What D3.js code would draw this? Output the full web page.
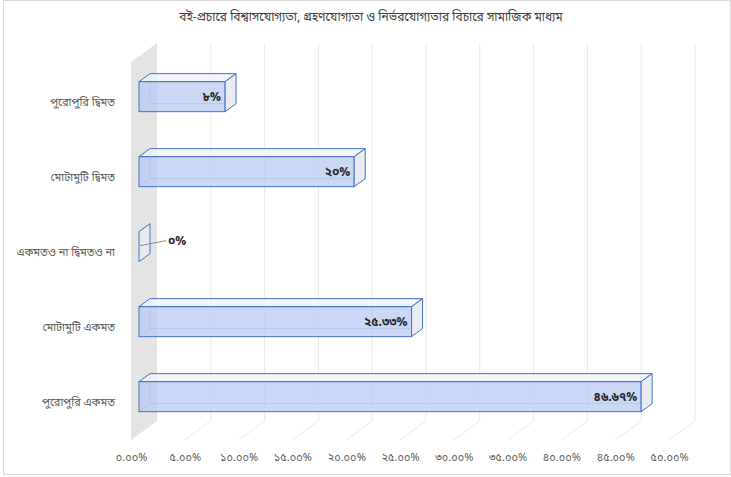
<!DOCTYPE html>
<html>
<head>
<meta charset="utf-8">
<script src="https://cdn.jsdelivr.net/npm/d3@7"></script>
<style>
  body { margin: 0; background: #fff; }
  text { font-family: "Noto Sans Bengali", "Noto Sans", "DejaVu Sans", sans-serif; }
</style>
</head>
<body>
<div id="chart"></div>
<script>
// chart data
const title = 'বই-প্রচারে বিশ্বাসযোগ্যতা, গ্রহণযোগ্যতা ও নির্ভরযোগ্যতার বিচারে সামাজিক মাধ্যম';
const categories = ['পুরোপুরি দ্বিমত', 'মোটামুটি দ্বিমত', 'একমতও না দ্বিমতও না', 'মোটামুটি একমত', 'পুরোপুরি একমত'];
const values = [8, 20, 0, 25.33, 46.67];
const valueLabels = ['৮%', '২০%', '০%', '২৫.৩৩%', '৪৬.৬৭%'];
const tickValues = [0, 5, 10, 15, 20, 25, 30, 35, 40, 45, 50];
const tickLabels = ['০.০০%', '৫.০০%', '১০.০০%', '১৫.০০%', '২০.০০%', '২৫.০০%', '৩০.০০%', '৩৫.০০%', '৪০.০০%', '৪৫.০০%', '৫০.০০%'];

const [width, height] = [731, 477];

// 3d depth: dx to the right, dy upward
const slope = -0.73;
const wallDepth = 26;
const barNear = 8, barFar = 19;

const x = d3.scaleLinear().domain([0, 50]).range([131, 669]);
const y = d3.scaleBand().domain(categories).range([65, 440])
    .paddingInner(0.6).paddingOuter(0.3);

const svg = d3.select('#chart').append('svg')
    .attr('width', width).attr('height', height);

// outer frame
svg.append('rect')
    .attr('x', 3.5).attr('y', 0.5)
    .attr('width', width - 4).attr('height', 474)
    .attr('fill', '#fff').attr('stroke', '#d9d9d9');

svg.append('text')
    .attr('x', 371).attr('y', 21)
    .attr('text-anchor', 'middle')
    .style('font-size', '12px')
    .attr('fill', '#404040')
    .text(title);

const floorY = 440, topY = 62;
const dy = (d) => d * slope;

// side wall
svg.append('path')
    .attr('d', `M${x(0)},${topY}L${x(0) + wallDepth},${topY + dy(wallDepth)}` +
        `L${x(0) + wallDepth},${floorY + dy(wallDepth)}L${x(0)},${floorY}Z`)
    .attr('fill', '#e4e4e4');

// back wall gridlines
svg.selectAll('.vgrid')
    .data(tickValues.slice(1))
    .join('line')
    .attr('x1', (d) => x(d) + wallDepth).attr('x2', (d) => x(d) + wallDepth)
    .attr('y1', topY + dy(wallDepth)).attr('y2', floorY + dy(wallDepth))
    .attr('stroke', '#e9e9e9');

// floor gridlines
svg.selectAll('.fgrid')
    .data(tickValues.slice(1))
    .join('line')
    .attr('x1', (d) => x(d)).attr('y1', floorY)
    .attr('x2', (d) => x(d) + wallDepth).attr('y2', floorY + dy(wallDepth))
    .attr('stroke', '#e9e9e9');

// bars
const bars = svg.selectAll('.bar')
    .data(categories.map((c, i) => ({ c, v: values[i], label: valueLabels[i] })))
    .join('g');

const depth = barFar - barNear;
bars.each(function (d) {
    const g = d3.select(this);
    const x0 = x(0) + barNear, x1 = x(d.v) + barNear;
    const t = y(d.c) + dy(barNear), b = t + y.bandwidth();
    const ox = depth, oy = dy(depth);
    const stroke = '#4472c4';
    if (d.v > 0) {
        // hidden back edges
        g.append('path')
            .attr('d', `M${x0 + ox},${t + oy}L${x0 + ox},${b + oy}L${x1 + ox},${b + oy}` +
                `M${x0},${b}L${x0 + ox},${b + oy}`)
            .attr('fill', 'none').attr('stroke', stroke).attr('stroke-opacity', 0.45);
        // top face
        g.append('path')
            .attr('d', `M${x0},${t}L${x0 + ox},${t + oy}L${x1 + ox},${t + oy}L${x1},${t}Z`)
            .attr('fill', '#f0f2f8').attr('fill-opacity', 0.8)
            .attr('stroke', stroke).attr('stroke-linejoin', 'round');
        // front face
        g.append('rect')
            .attr('x', x0).attr('y', t)
            .attr('width', x1 - x0).attr('height', b - t)
            .attr('fill', '#b8cbf1').attr('fill-opacity', 0.75)
            .attr('stroke', stroke);
    }
    // end face
    g.append('path')
        .attr('d', `M${x1},${t}L${x1 + ox},${t + oy}L${x1 + ox},${b + oy}L${x1},${b}Z`)
        .attr('fill', '#e8eaef').attr('fill-opacity', 0.9)
        .attr('stroke', stroke).attr('stroke-linejoin', 'round');

    if (d.v > 0) {
        g.append('text')
            .attr('x', x1 - 4).attr('y', (t + b) / 2)
            .attr('dy', '0.35em')
            .attr('text-anchor', 'end')
            .style('font-size', '12px').style('font-weight', 'bold')
            .attr('fill', '#262626')
            .text(d.label);
    } else {
        const cy = (t + b + oy) / 2;
        g.append('line')
            .attr('x1', x1 + 1).attr('y1', cy + 3)
            .attr('x2', x1 + 27).attr('y2', cy - 2)
            .attr('stroke', '#8c8c8c');
        g.append('text')
            .attr('x', x1 + 29).attr('y', cy - 2)
            .attr('dy', '0.35em')
            .style('font-size', '12px').style('font-weight', 'bold')
            .attr('fill', '#262626')
            .text(d.label);
    }
});

// category labels
svg.selectAll('.cat')
    .data(categories)
    .join('text')
    .attr('x', 115)
    .attr('y', (d) => y(d) + y.bandwidth() / 2)
    .attr('dy', '0.35em')
    .attr('text-anchor', 'end')
    .style('font-size', '11px')
    .attr('fill', '#595959')
    .text((d) => d);

// value axis
const xAxis = d3.axisBottom(x)
    .tickValues(tickValues)
    .tickSize(0)
    .tickPadding(0)
    .tickFormat((d, i) => tickLabels[i]);

const ax = svg.append('g')
    .attr('transform', `translate(0, ${floorY + 13})`)
    .call(xAxis);
ax.select('.domain').remove();
ax.selectAll('text')
    .style('font-size', '11px')
    .attr('fill', '#595959');
</script>
</body>
</html>
